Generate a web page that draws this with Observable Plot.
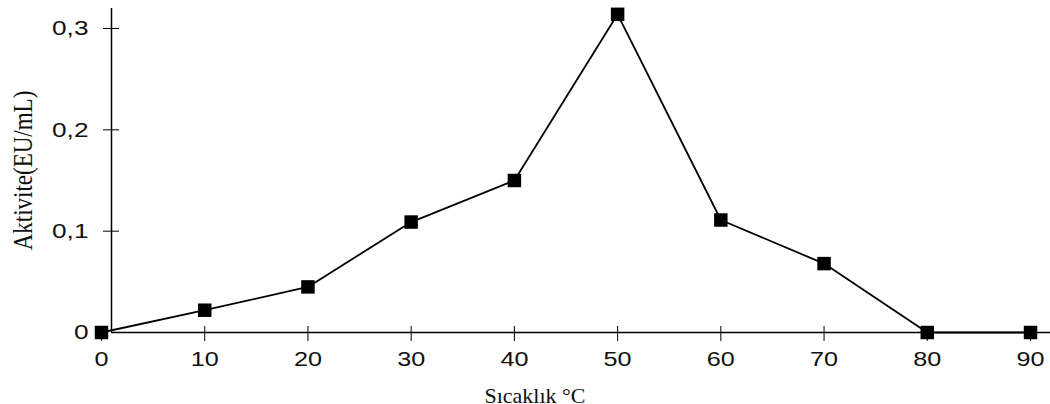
<!DOCTYPE html>
<html>
<head>
<meta charset="utf-8">
<script src="https://cdn.jsdelivr.net/npm/d3@7"></script>
<script src="https://cdn.jsdelivr.net/npm/@observablehq/plot@0.6"></script>
<style>
  html, body { margin: 0; padding: 0; background: #fff; overflow: hidden; }
  #chart svg { display: block; }
</style>
</head>
<body>
<div id="chart"></div>
<script>
const temps = [0, 10, 20, 30, 40, 50, 60, 70, 80, 90];
const activity = [0, 0.022, 0.045, 0.109, 0.150, 0.314, 0.111, 0.068, 0, 0];
const xTicks = [0, 10, 20, 30, 40, 50, 60, 70, 80, 90];
const yTicks = [0, 0.1, 0.2, 0.3];
const yTickLabels = ["0", "0,1", "0,2", "0,3"];
const xTitle = "Sıcaklık °C";
const yTitle = "Aktivite(EU/mL)";

const rows = temps.map((t, i) => ({t, a: activity[i]}));
const sans = "Liberation Sans, Arial, sans-serif";
const serif = "Liberation Serif, Times New Roman, serif";

const chart = Plot.plot({
  width: 1050,
  height: 404,
  marginLeft: 101,
  marginRight: 20,
  marginTop: 28,
  marginBottom: 72,
  style: {background: "#fff", overflow: "visible"},
  x: {domain: [0, 90], axis: null},
  y: {domain: [0, 0.3], axis: null},
  marks: [
    // axis lines
    Plot.ruleY([0], {stroke: "#000", strokeWidth: 1.5, insetLeft: 10, insetRight: -20}),
    Plot.ruleX([0], {stroke: "#000", strokeWidth: 1.5, dx: 10, insetTop: -20}),
    // ticks
    Plot.ruleX(xTicks, {x: d => d, y1: 0, y2: 0, insetTop: 9, insetBottom: 6, stroke: "#000", strokeWidth: 1}),
    Plot.ruleY(yTicks.slice(1), {y: d => d, x1: 0, x2: 0, insetLeft: 2, insetRight: -18, stroke: "#000", strokeWidth: 1}),
    // tick labels
    Plot.text(xTicks, {x: d => d, text: d => String(d), frameAnchor: "bottom", dy: 27, lineAnchor: "middle",
      textAnchor: "middle", fontFamily: sans, fontSize: 21, fill: "#111"}),
    Plot.text(yTicks, {y: d => d, text: (d, i) => yTickLabels[i], frameAnchor: "left", dx: -13, textAnchor: "end",
      lineAnchor: "middle", fontFamily: sans, fontSize: 21, fill: "#111"}),
    // titles
    Plot.text([xTitle], {frameAnchor: "bottom", dx: -31, dy: 63, lineAnchor: "middle", textAnchor: "middle",
      fontFamily: serif, fontSize: 22, fill: "#111"}),
    Plot.text([yTitle], {frameAnchor: "left", rotate: -90, dx: -78, dy: -10, lineAnchor: "middle", textAnchor: "middle",
      fontFamily: serif, fontSize: 23, fill: "#111"}),
    // data
    Plot.line(rows, {x: "t", y: "a", stroke: "#000", strokeWidth: 1.8}),
    Plot.dot(rows, {x: "t", y: "a", symbol: "square", r: 7.6, fill: "#000", stroke: "none"})
  ]
});
document.getElementById("chart").appendChild(chart);

// the reference's lettering is drawn horizontally stretched
function stretch(g, sx, sy) {
  if (!g) return;
  g.querySelectorAll("text").forEach(el => {
    const t = el.getAttribute("transform");
    if (t) {
      el.setAttribute("transform", t + ` scale(${sx},${sy})`);
    } else {
      const x = +el.getAttribute("x") || 0, y = +el.getAttribute("y") || 0;
      el.removeAttribute("x"); el.removeAttribute("y");
      el.setAttribute("transform", `translate(${x},${y}) scale(${sx},${sy})`);
    }
  });
}
const tickGroups = chart.querySelectorAll('g[font-size="21"]');
stretch(tickGroups[0], 1.2, 1);
stretch(tickGroups[1], 1.25, 1);
stretch(chart.querySelector('g[font-size="23"]'), 1, 1.2);
</script>
</body>
</html>
